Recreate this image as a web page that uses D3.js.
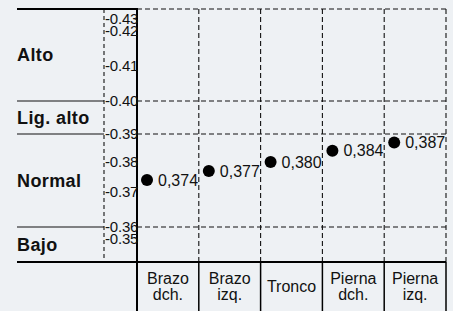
<!DOCTYPE html>
<html>
<head>
<meta charset="utf-8">
<script src="https://cdn.jsdelivr.net/npm/d3@7"></script>
<style>
  html, body { margin: 0; padding: 0; background: #eef1f4; }
  svg { display: block; font-family: "Liberation Sans Narrow", "Liberation Sans", Arial, sans-serif; }
</style>
</head>
<body>
<svg id="svg" width="453" height="311"></svg>
<script>
const categories = ['Brazo dch.', 'Brazo izq.', 'Tronco', 'Pierna dch.', 'Pierna izq.']
const categoryLines = [['Brazo', 'dch.'], ['Brazo', 'izq.'], ['Tronco'], ['Pierna', 'dch.'], ['Pierna', 'izq.']]
const values = [0.374, 0.377, 0.380, 0.384, 0.387]
const valueLabels = ['0,374', '0,377', '0,380', '0,384', '0,387']
const tickValues = [0.35, 0.36, 0.37, 0.38, 0.39, 0.40, 0.41, 0.42, 0.43]
const bandNames = ['Alto', 'Lig. alto', 'Normal', 'Bajo']
const bandTop = [0.44, 0.40, 0.39, 0.36]
const bandBottom = [0.40, 0.39, 0.36, 0.33]

const svg = d3.select('#svg')
const width = +svg.attr('width')
const height = +svg.attr('height')

const labelX = 17   // left column text
const axisX = 104   // dashed axis line
const plotLeft = 137
const plotRight = 446
const plotTop = 9
const plotBottom = 262

// the original axis is not linear, so piecewise stops
const yScale = d3.scaleLinear()
    .domain([0.33, 0.35, 0.36, 0.37, 0.38, 0.39, 0.40, 0.41, 0.42, 0.43, 0.44])
    .range([plotBottom, 239, 227, 192, 162, 134, 101, 66, 31, 19, plotTop])

const xScale = d3.scaleBand()
    .domain(categories)
    .range([plotLeft, plotRight])
    .padding(0)

const dash = '5,3'

// grid: dashed horizontals at band edges inside the plot
svg.append('g').selectAll('line')
    .data(bandTop)
    .join('line')
    .attr('x1', plotLeft).attr('x2', plotRight)
    .attr('y1', d => yScale(d)).attr('y2', d => yScale(d))
    .attr('stroke', '#111').attr('stroke-width', 1.1)
    .attr('stroke-dasharray', dash)

// dashed verticals at column edges
svg.append('g').selectAll('line')
    .data(categories)
    .join('line')
    .attr('x1', d => xScale(d) + xScale.bandwidth()).attr('x2', d => xScale(d) + xScale.bandwidth())
    .attr('y1', plotTop).attr('y2', plotBottom)
    .attr('stroke', '#111').attr('stroke-width', 1.1)
    .attr('stroke-dasharray', dash)

// solid separators in category row
svg.append('g').selectAll('line')
    .data(categories)
    .join('line')
    .attr('x1', d => xScale(d) + xScale.bandwidth()).attr('x2', d => xScale(d) + xScale.bandwidth())
    .attr('y1', plotBottom).attr('y2', height)
    .attr('stroke', '#000').attr('stroke-width', 1.5)

// left axis dashed line
svg.append('line')
    .attr('x1', axisX).attr('x2', axisX)
    .attr('y1', plotTop).attr('y2', plotBottom)
    .attr('stroke', '#111').attr('stroke-width', 1.1)
    .attr('stroke-dasharray', '4,3')

// solid band separators in the left column
svg.append('g').selectAll('line')
    .data(bandTop.slice(1))
    .join('line')
    .attr('x1', labelX).attr('x2', axisX)
    .attr('y1', d => yScale(d)).attr('y2', d => yScale(d))
    .attr('stroke', '#111').attr('stroke-width', 1.2)

// top and bottom frame
svg.append('line')
    .attr('x1', labelX).attr('x2', plotLeft)
    .attr('y1', yScale(0.44)).attr('y2', yScale(0.44))
    .attr('stroke', '#000').attr('stroke-width', 2)
svg.append('line')
    .attr('x1', labelX).attr('x2', plotRight)
    .attr('y1', yScale(0.33)).attr('y2', yScale(0.33))
    .attr('stroke', '#000').attr('stroke-width', 2)

// thick vertical at plot left
svg.append('line')
    .attr('x1', plotLeft).attr('x2', plotLeft)
    .attr('y1', plotTop - 1).attr('y2', height)
    .attr('stroke', '#000').attr('stroke-width', 2)

// tick labels
svg.append('g').selectAll('text')
    .data(tickValues)
    .join('text')
    .attr('x', axisX + 1)
    .attr('y', d => yScale(d))
    .attr('dy', '0.35em')
    .attr('font-size', 15)
    .attr('letter-spacing', -0.2)
    .attr('fill', '#111')
    .text(d => '-' + d.toFixed(2))

// band names
svg.append('g').selectAll('text')
    .data(bandNames)
    .join('text')
    .attr('x', labelX)
    .attr('y', (d, i) => (yScale(bandTop[i]) + yScale(bandBottom[i])) / 2)
    .attr('dy', '0.35em')
    .attr('font-family', '"Liberation Sans", Arial, sans-serif')
    .attr('font-size', 18)
    .attr('font-weight', 'bold')
    .attr('letter-spacing', 0.4)
    .attr('fill', '#111')
    .text(d => d)

// category labels
categoryLines.forEach((lines, i) => {
    const cx = xScale(categories[i]) + xScale.bandwidth() / 2
    const cy = (plotBottom + height) / 2
    const t = svg.append('text')
        .attr('x', cx)
        .attr('text-anchor', 'middle')
        .attr('font-size', 16)
        .attr('fill', '#111')
    lines.forEach((l, j) => {
        t.append('tspan')
            .attr('x', cx)
            .attr('y', cy + (j - (lines.length - 1) / 2) * 16)
            .attr('dy', '0.35em')
            .text(l)
    })
})

// points
svg.append('g').selectAll('circle')
    .data(values)
    .join('circle')
    .attr('cx', (d, i) => xScale(categories[i]) + 10)
    .attr('cy', d => yScale(d))
    .attr('r', 6)
    .attr('fill', '#000')

svg.append('g').selectAll('text')
    .data(values)
    .join('text')
    .attr('x', (d, i) => xScale(categories[i]) + 21)
    .attr('y', d => yScale(d))
    .attr('dy', '0.35em')
    .attr('font-size', 16)
    .attr('fill', '#111')
    .text((d, i) => valueLabels[i])
</script>
</body>
</html>
